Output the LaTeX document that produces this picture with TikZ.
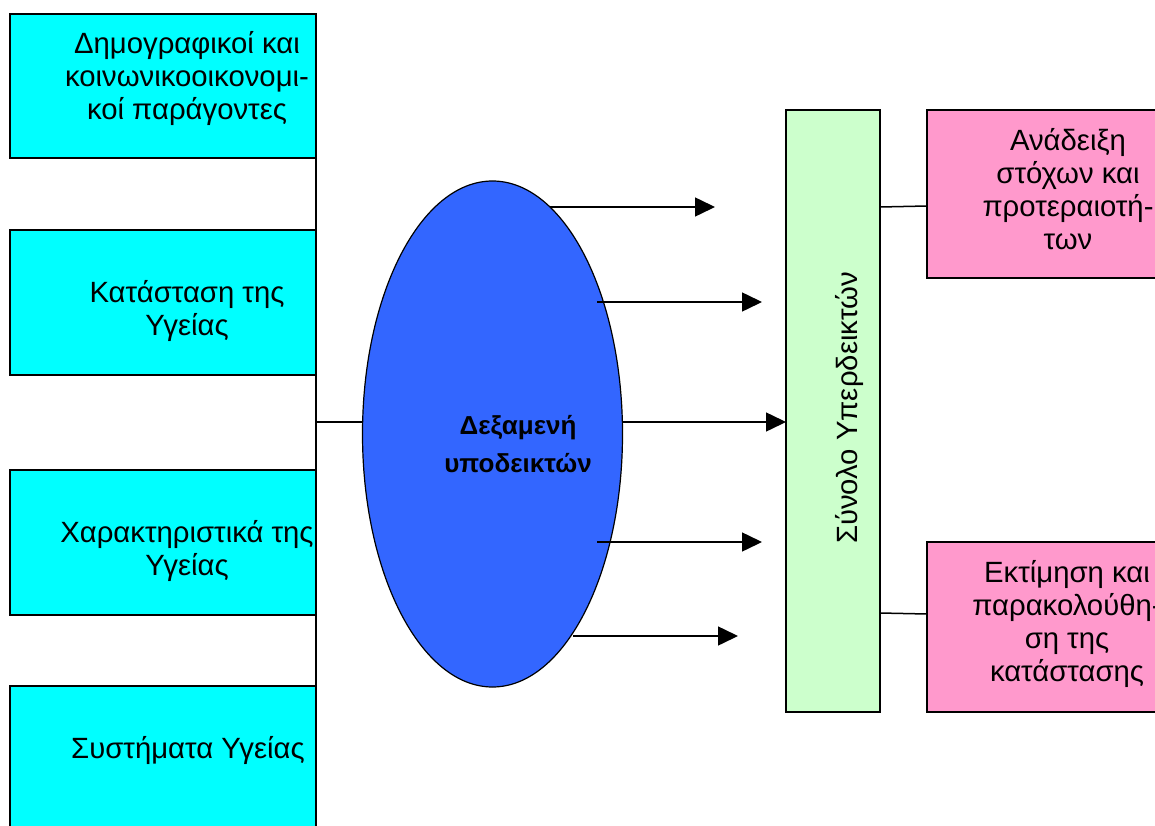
\documentclass[tikz,border=0pt]{standalone}
\usepackage{fontspec}
\setmainfont{Liberation Sans}
\usetikzlibrary{arrows.meta,shapes.geometric}
\definecolor{cyanbox}{HTML}{00FFFF}
\definecolor{greenbox}{HTML}{CCFFCC}
\definecolor{pinkbox}{HTML}{FF99CC}
\definecolor{blueell}{HTML}{3366FF}
\begin{document}
\begin{tikzpicture}[x=1pt,y=-1pt,
  boxline/.style={draw=black,line width=1.5pt,inner sep=0pt,outer sep=0pt},
  lbox/.style={boxline,fill=cyanbox,minimum width=306pt},
  pbox/.style={boxline,fill=pinkbox,minimum width=248pt},
  txt/.style={align=center,inner sep=0pt,font=\fontsize{29.3}{33}\selectfont},
  conn/.style={draw=black,line width=1.5pt},
  arr/.style={conn,-{Triangle[length=20pt,width=19pt]}}]
\useasboundingbox (0,0) rectangle (1155,826);
\clip (0,0) rectangle (1155,826);
\fill[white] (0,0) rectangle (1155,826);
% left boxes
\node[lbox,minimum height=144pt] (b1) at (163,86) {};
\node[lbox,minimum height=145pt] (b2) at (163,302.5) {};
\node[lbox,minimum height=145pt] (b3) at (163,542.5) {};
\node[lbox,minimum height=154pt] (b4) at (163,763) {};
\node[txt] (t1) at (187,79) {Δημογραφικοί και\\κοινωνικοοικονομι-\\κοί παράγοντες};
\node[txt] (t2) at (187,311) {Κατάσταση της\\Υγείας};
\node[txt] (t3) at (187,551) {Χαρακτηριστικά της\\Υγείας};
\node[txt] (t4) at (188,750) {Συστήματα Υγείας};
% ellipse
\node[ellipse,draw=black,line width=1.2pt,fill=blueell,minimum width=260pt,minimum height=506pt,inner sep=0pt] (ell) at (492.5,434) {};
\node[align=center,inner sep=0pt,font=\fontsize{26}{38}\bfseries] (et) at (518,444) {Δεξαμενή\\υποδεικτών};
% green box
\node[boxline,fill=greenbox,minimum width=94pt,minimum height=602pt] (g) at (833,411) {};
\node[txt,rotate=90] (gt) at (849,408) {Σύνολο Υπερδεικτών};
% pink boxes
\node[pbox,minimum height=168pt] (p1) at (1051,194) {};
\node[pbox,minimum height=170pt] (p2) at (1051,627) {};
\node[txt] (pt1) at (1068,189) {Ανάδειξη\\στόχων και\\προτεραιοτή-\\των};
\node[txt] (pt2) at (1067,624) {Εκτίμηση και\\παρακολούθη-\\ση της\\κατάστασης};
% left connectors
\coordinate (j) at (b2.east |- 0,422);
\draw[conn] (b1.south east) -- (b4.north east);
\draw[conn] (j) -- (j -| ell.west);
% arrows
\coordinate (a1s) at (550,207); \coordinate (a1e) at (715,207);
\coordinate (a2s) at (597,302); \coordinate (a2e) at (762,302);
\coordinate (a4s) at (597,542); \coordinate (a4e) at (762,542);
\coordinate (a5s) at (573,636); \coordinate (a5e) at (738,636);
\draw[arr] (a1s) -- (a1e);
\draw[arr] (a2s) -- (a2e);
\draw[arr] (j -| ell.east) -- (j -| g.west);
\draw[arr] (a4s) -- (a4e);
\draw[arr] (a5s) -- (a5e);
% right connectors
\draw[conn] (g.east |- 0,207) -- (p1.west |- 0,206);
\draw[conn] (g.east |- 0,613) -- (p2.west |- 0,614);
\end{tikzpicture}
\end{document}
